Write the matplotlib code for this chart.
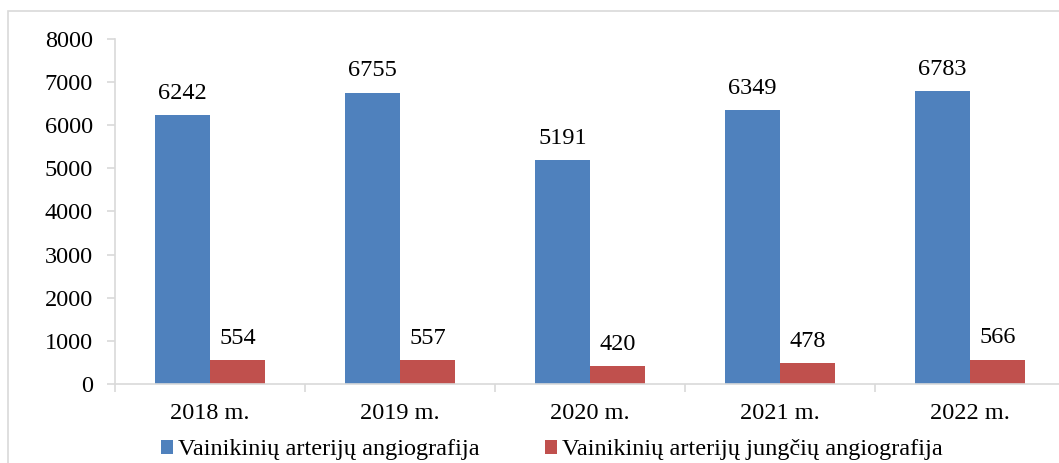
import numpy as np
import matplotlib
from matplotlib import pyplot as plt
from matplotlib.patches import Rectangle

matplotlib.rcParams['font.family'] = ['Liberation Serif', 'DejaVu Serif']

years = ['2018 m.', '2019 m.', '2020 m.', '2021 m.', '2022 m.']
angio = [6242, 6755, 5191, 6349, 6783]
bypass = [554, 557, 420, 478, 566]
series_names = ['Vainikinių arterijų angiografija', 'Vainikinių arterijų jungčių angiografija']

W, H = 1059, 463
fs = 17.5
fig = plt.figure(figsize=(W / 100, H / 100), dpi=100)

# outer frame (cropped on right/bottom like the original)
fig.patches.append(Rectangle((8 / W, -0.1), 1.2, 1 - 11 / H + 0.1, transform=fig.transFigure,
                             fill=False, edgecolor='#d9d9d9', linewidth=1.2))

left, right = 115, 1065
bottom, top = 384, 39
ax = fig.add_axes([left / W, 1 - bottom / H, (right - left) / W, (bottom - top) / H])

x = np.arange(len(years))
bw = 0.29
b1 = ax.bar(x - bw / 2, angio, bw, color='#4f81bd', label=series_names[0])
b2 = ax.bar(x + bw / 2, bypass, bw, color='#c0504d', label=series_names[1])

for rect, v in zip(b1, angio):
    ax.text(rect.get_x() + rect.get_width() / 2, v + 260, str(v), ha='center', va='bottom', fontsize=fs)
for rect, v in zip(b2, bypass):
    ax.text(rect.get_x() + rect.get_width() / 2, v + 260, str(v), ha='center', va='bottom', fontsize=fs)

ax.set_xlim(-0.5, len(years) - 0.5)
ax.set_ylim(0, 8000)
ax.set_yticks(range(0, 8001, 1000))
ax.set_xticks(x)
ax.set_xticklabels(years)
ax.set_xticks(np.arange(len(years) + 1) - 0.5, minor=True)
ax.tick_params(axis='x', which='major', length=0, pad=14, labelsize=fs)
ax.tick_params(axis='x', which='minor', length=6, color='#d9d9d9', width=1.2)
ax.tick_params(axis='y', length=6, color='#d9d9d9', width=1.2, pad=10, labelsize=fs)

for s in ['top', 'right']:
    ax.spines[s].set_visible(False)
for s in ['left', 'bottom']:
    ax.spines[s].set_color('#d9d9d9')
    ax.spines[s].set_linewidth(1.2)

fig.legend(handles=[b1, b2], labels=series_names, loc='center', bbox_to_anchor=(0.521, 1 - 450 / H),
           ncol=2, frameon=False, fontsize=fs, handlelength=0.5, handleheight=0.5,
           handletextpad=0.2, columnspacing=2.7)

fig.savefig('out.png', dpi=100)
